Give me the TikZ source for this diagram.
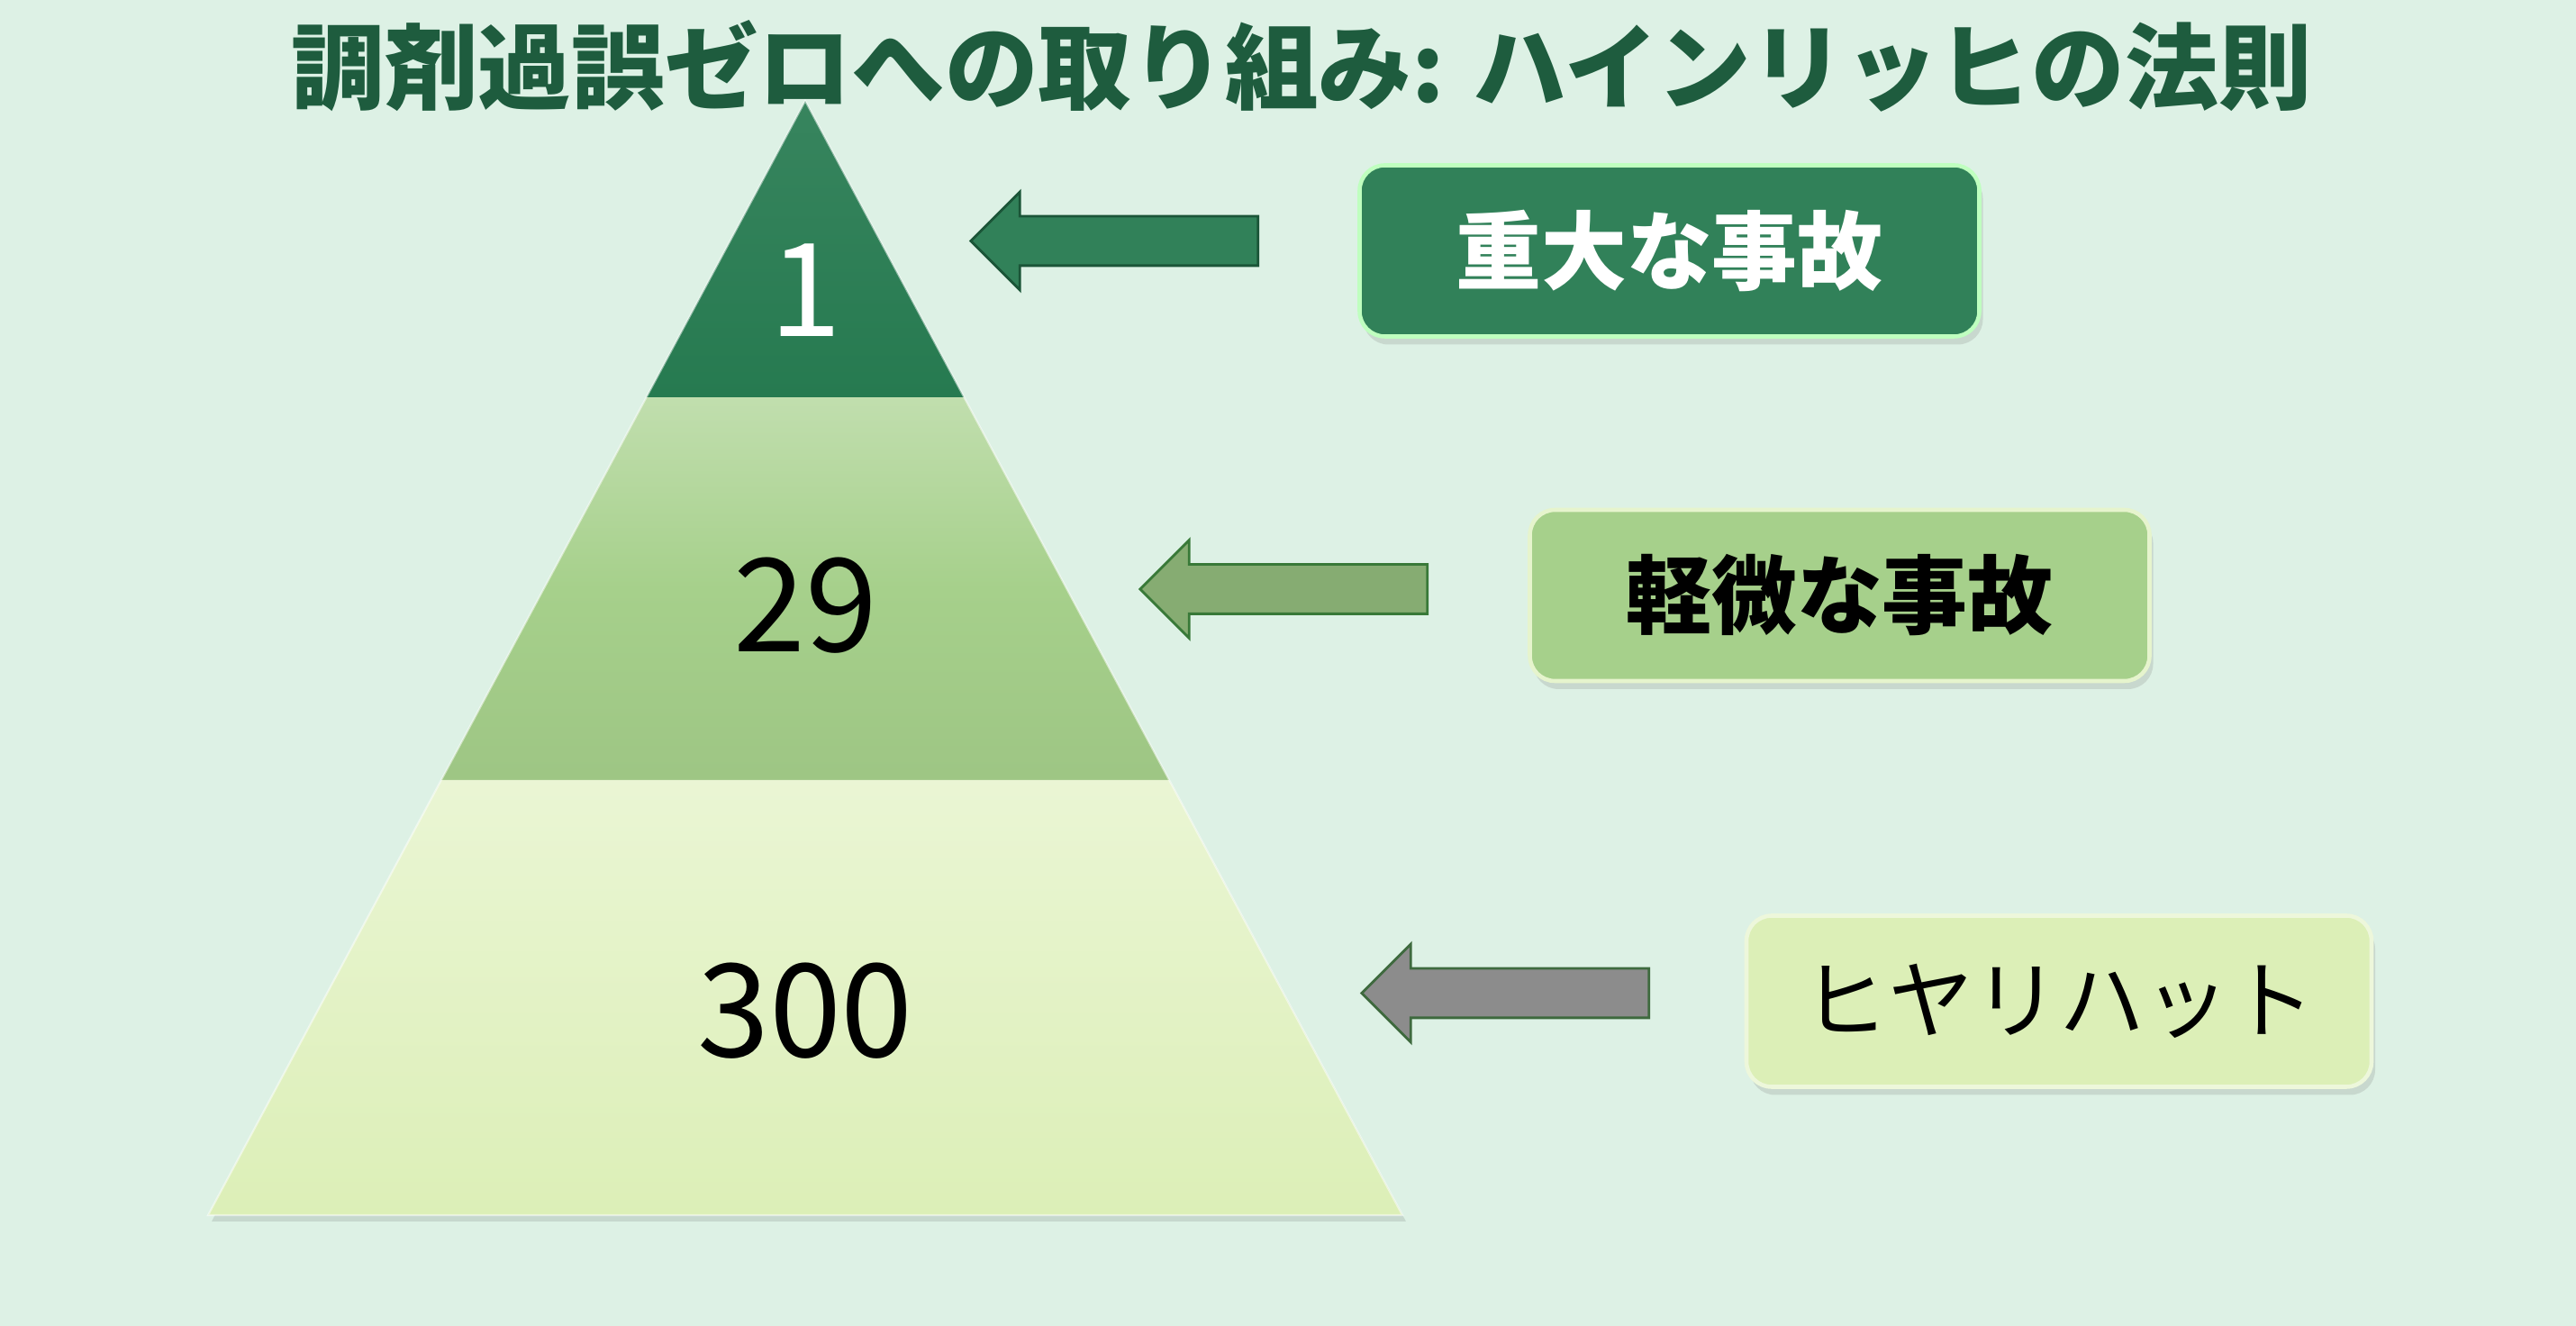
\documentclass[tikz,border=0pt]{standalone}
\usepackage{fontspec}
\setmainfont{Noto Sans CJK JP}
\usepackage{tikz}
\usetikzlibrary{shapes.arrows, shadows, calc, positioning}

\definecolor{bgmint}{RGB}{221,241,229}
\definecolor{titlegreen}{RGB}{30,92,62}
\definecolor{darkgreen}{RGB}{38,122,80}
\definecolor{midgreen}{RGB}{166,208,139}
\definecolor{palegreen}{RGB}{220,239,183}
\definecolor{arrowgreen}{RGB}{134,172,114}
\definecolor{arrowgray}{RGB}{140,140,140}
\definecolor{edgegreen}{RGB}{62,106,62}

\begin{document}
\begin{tikzpicture}[
            tier_num/.style={font=\fontsize{41}{49}\selectfont},
            label_box/.style={rectangle, rounded corners=0.28cm, line width=1.3pt, minimum width=6.88cm, minimum height=1.9cm, align=center, font=\fontsize{27}{32}\selectfont\bfseries, drop shadow={shadow xshift=0.04cm, shadow yshift=-0.09cm, opacity=0.22}},
            block_arrow/.style={single arrow, shape border rotate=180, minimum height=3.19cm, inner sep=0.26cm, single arrow head extend=0.27cm, line width=0.8pt}
        ]

% Background
            \fill[bgmint] (0,0) rectangle (28.6,14.72);

% Pyramid
            \coordinate (apex) at (8.94,13.60);
            \coordinate (base_left) at (2.31,1.23);
            \coordinate (base_right) at (15.57,1.23);
            \coordinate (top_left) at ($(apex)!0.266!(base_left)$);
            \coordinate (top_right) at ($(apex)!0.266!(base_right)$);
            \coordinate (mid_left) at ($(apex)!0.6095!(base_left)$);
            \coordinate (mid_right) at ($(apex)!0.6095!(base_right)$);
            \fill[black, opacity=0.10] ([xshift=0.04cm, yshift=-0.07cm]base_left) -- ([xshift=0.04cm, yshift=-0.07cm]base_right) -- (mid_right) -- (mid_left) -- cycle;
            \shade[top color=darkgreen!92!white, bottom color=darkgreen] (apex) -- (top_right) -- (top_left) -- cycle;
            \shade[top color=midgreen!70!white, bottom color=midgreen!95!black, middle color=midgreen] (top_left) -- (top_right) -- (mid_right) -- (mid_left) -- cycle;
            \shade[top color=palegreen!60!white, bottom color=palegreen] (mid_left) -- (mid_right) -- (base_right) -- (base_left) -- cycle;
            \draw[white, opacity=0.5, line width=0.6pt] (apex) -- (base_right) -- (base_left) -- cycle;

% Tier counts
            \node[tier_num, text=white] (count_major) at (8.94,11.50) {1};
            \node[tier_num, text=black] (count_minor) at (8.94,8.00) {29};
            \node[tier_num, text=black] (count_near) at (8.94,3.50) {300};

% Arrows
            \node[block_arrow, fill=darkgreen!95!white, draw=darkgreen!70!black] (arrow_major) at (12.51,12.045) {};
            \node[block_arrow, fill=arrowgreen, draw=edgegreen!90!green] (arrow_minor) at (14.39,8.18) {};
            \node[block_arrow, fill=arrowgray, draw=edgegreen] (arrow_near) at (16.85,3.695) {};

% Labels
            \node[label_box, fill=darkgreen!95!white, draw=green!25!white, text=white] (box_major) at (18.535,11.935) {重大な事故};
            \node[label_box, fill=midgreen, draw=palegreen!70!white, text=black] (box_minor) at (20.425,8.11) {軽微な事故};
            \node[label_box, fill=palegreen, draw=palegreen!50!white, text=black, minimum width=6.94cm, font=\fontsize{27}{32}\selectfont] (box_near) at (22.86,3.605) {ヒヤリハット};

% Title
            \node[font=\fontsize{29.5}{36}\selectfont\bfseries, text=titlegreen] (title) at (14.45,13.99) {調剤過誤ゼロへの取り組み: ハインリッヒの法則};

        \end{tikzpicture}
\end{document}
